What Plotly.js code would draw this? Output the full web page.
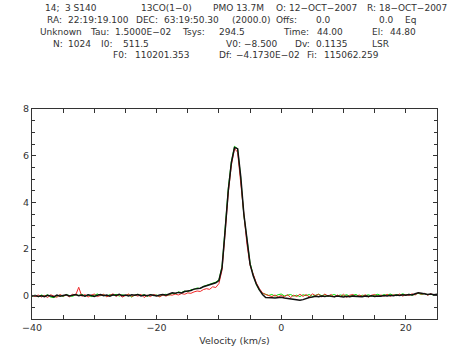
<!DOCTYPE html>
<html>
<head>
<meta charset="utf-8">
<script src="https://cdn.plot.ly/plotly-3.0.1.min.js"></script>
<style>html,body{margin:0;padding:0;background:#fff;}#plot{width:456px;height:355px;}</style>
</head>
<body>
<div id="plot"></div>
<script>
// Velocity channels (km/s)
const velocity = [
 -40,-39.5,-39,-38.5,-38,-37.5,-37,-36.5,-36,-35.5,
 -35,-34.5,-34,-33.5,-33,-32.5,-32,-31.5,-31,-30.5,
 -30,-29.5,-29,-28.5,-28,-27.5,-27,-26.5,-26,-25.5,
 -25,-24.5,-24,-23.5,-23,-22.5,-22,-21.5,-21,-20.5,
 -20,-19.5,-19,-18.5,-18,-17.5,-17,-16.5,-16,-15.5,
 -15,-14.5,-14,-13.5,-13,-12.5,-12,-11.5,-11,-10.5,
 -10,-9.5,-9,-8.5,-8,-7.5,-7,-6.5,-6,-5.5,
 -5,-4.5,-4,-3.5,-3,-2.5,-2,-1.5,-1,-0.5,
 0,0.5,1,1.5,2,2.5,3,3.5,4,4.5,
 5,5.5,6,6.5,7,7.5,8,8.5,9,9.5,
 10,10.5,11,11.5,12,12.5,13,13.5,14,14.5,
 15,15.5,16,16.5,17,17.5,18,18.5,19,19.5,
 20,20.5,21,21.5,22,22.5,23,23.5,24,24.5,
 25
];
const blackSpec = [
 -0.02,0.01,-0.03,0.0,-0.04,0.02,-0.01,-0.05,0.03,-0.02,
 0.01,0.04,-0.01,0.02,0.05,0.0,0.03,-0.02,0.04,0.01,
 -0.03,0.02,0.05,0.0,0.03,-0.02,0.04,0.01,0.06,0.0,
 0.03,-0.01,0.04,0.02,0.05,-0.01,0.03,0.0,0.04,0.02,
 -0.01,0.03,0.05,0.02,0.08,0.12,0.1,0.14,0.12,0.18,
 0.2,0.22,0.28,0.3,0.32,0.38,0.42,0.45,0.5,0.55,
 0.65,1.2,2.8,4.5,5.7,6.35,6.3,5.1,3.5,2.3,
 1.35,0.85,0.5,0.25,0.05,-0.08,-0.1,-0.09,-0.1,-0.08,
 -0.07,-0.1,-0.12,-0.15,-0.17,-0.18,-0.2,-0.17,-0.12,-0.08,
 -0.06,-0.03,-0.05,-0.02,-0.04,0.0,-0.03,-0.05,-0.02,-0.04,
 -0.06,-0.03,-0.05,-0.02,-0.04,-0.03,-0.05,-0.02,-0.03,0.0,
 -0.03,-0.01,-0.02,0.01,-0.01,0.02,0.0,0.03,0.01,0.04,
 0.02,0.05,0.03,0.08,0.12,0.1,0.08,0.05,0.07,0.04,
 0.06
];
const redSpec = [
 0.02,-0.04,0.03,-0.06,0.01,-0.08,0.04,-0.03,-0.07,0.05,
 -0.02,0.03,-0.05,0.06,0.02,0.36,-0.03,0.05,-0.06,0.02,
 0.07,-0.04,0.01,0.06,-0.05,0.03,0.08,-0.03,0.04,-0.06,
 0.02,0.07,-0.04,0.03,-0.02,0.06,-0.08,0.02,-0.04,0.05,
 0.01,-0.05,0.03,-0.02,0.04,0.02,0.07,0.03,0.09,0.06,
 0.12,0.1,0.16,0.2,0.18,0.26,0.3,0.27,0.38,0.35,
 0.52,1.1,2.7,4.4,5.6,6.3,6.15,4.9,3.4,2.2,
 1.3,0.9,0.55,0.3,0.12,0.05,0.02,-0.04,0.03,-0.06,
 0.01,-0.05,0.04,-0.08,0.02,-0.04,0.06,-0.03,0.05,-0.06,
 0.08,0.0,0.06,-0.05,0.07,-0.02,0.05,-0.06,0.03,-0.04,
 0.06,-0.07,0.02,0.05,-0.05,0.03,-0.03,0.04,-0.06,0.02,
 0.05,-0.04,0.03,-0.02,0.06,-0.03,0.04,0.0,0.07,-0.02,
 0.05,0.01,0.08,0.03,0.13,0.06,0.1,0.02,0.08,0.03,
 0.05
];
const greenSpec = [
 -0.03,0.02,-0.05,0.03,-0.02,0.04,-0.06,-0.08,-0.02,0.03,
 -0.04,0.05,0.0,-0.03,0.04,0.01,0.06,-0.02,0.03,-0.04,
 0.02,0.07,0.0,0.04,-0.03,0.05,0.01,0.06,-0.02,0.04,
 0.0,0.05,-0.06,0.03,0.06,0.01,0.04,-0.03,0.05,0.0,
 0.03,-0.04,0.04,0.06,0.02,0.1,0.08,0.16,0.13,0.2,
 0.17,0.25,0.27,0.33,0.3,0.4,0.44,0.48,0.52,0.58,
 0.68,1.25,2.9,4.6,5.75,6.4,6.3,5.05,3.45,2.3,
 1.4,0.9,0.48,0.22,0.1,0.06,0.01,0.05,-0.02,0.04,
 0.07,-0.01,0.03,0.05,-0.02,0.02,-0.04,0.04,0.0,0.05,
 -0.03,0.03,0.06,0.0,0.04,-0.03,0.02,0.05,-0.01,0.03,
 0.0,0.04,-0.02,0.02,0.05,-0.03,0.02,0.0,0.04,-0.02,
 0.03,0.06,0.0,0.04,0.02,0.07,0.01,0.05,0.02,0.08,
 0.03,0.06,0.02,0.07,0.1,0.05,0.09,0.04,0.06,0.02,
 0.05
];
// Header text tokens (one list per line)
const headerLine1 = ["14;", "3 S140", "13CO(1-0)", "PMO 13.7M", "O:", "12-OCT-2007", "R:", "18-OCT-2007"];
const headerLine2 = ["RA:", "22:19:19.100", "DEC:", "63:19:50.30", "(2000.0)", "Offs:", "0.0", "0.0", "Eq"];
const headerLine3 = ["Unknown", "Tau:", "1.5000E-02", "Tsys:", "294.5", "Time:", "44.00", "El:", "44.80"];
const headerLine4 = ["N:", "1024", "I0:", "511.5", "V0:", "-8.500", "Dv:", "0.1135", "LSR"];
const headerLine5 = ["F0:", "110201.353", "Df:", "-4.1730E-02", "Fi:", "115062.259"];
const xTitle = "Velocity (km/s)";

// ---- layout geometry ----
const W = 456, H = 355, L = 32, R = 437, T = 109, B = 319;
const pxX = p => (p - L) / (R - L);
const pxY = p => (B - p) / (B - T);
const lineTokens = [headerLine1, headerLine2, headerLine3, headerLine4, headerLine5];
const lineY = [8.5, 20.5, 32.5, 44, 55];
const lineX = [
  [43, 63, 139, 211, 274, 287, 365, 377],
  [45, 66, 134, 162, 230, 274, 314, 377, 403],
  [38, 88, 113, 180, 217, 281, 315, 370, 388],
  [51, 66, 99, 121, 224, 242, 293, 314, 370],
  [111, 133, 217, 234, 305, 322]
];
const hdrFont = {family: "DejaVu Sans, Liberation Sans, sans-serif", size: 9, color: "#333"};
const annotations = [];
lineTokens.forEach((toks, i) => {
  toks.forEach((t, j) => {
    annotations.push({
      text: t.replace(/-/g, "\u2212"), xref: "paper", yref: "paper",
      x: pxX(lineX[i][j]), y: pxY(lineY[i]), xanchor: "left", yanchor: "middle",
      showarrow: false, font: hdrFont
    });
  });
});

const tickFont = {family: "DejaVu Sans, Liberation Sans, sans-serif", size: 9.5, color: "#333"};
const traces = [
  {x: velocity, y: greenSpec, type: "scatter", mode: "lines", line: {color: "#00e600", width: 1}, hoverinfo: "skip"},
  {x: velocity, y: redSpec, type: "scatter", mode: "lines", line: {color: "#f02828", width: 1}, hoverinfo: "skip"},
  {x: velocity, y: blackSpec, type: "scatter", mode: "lines", line: {color: "#111", width: 1.5}, hoverinfo: "skip"}
];
const layout = {
  width: W, height: H,
  margin: {l: L, r: W - R, t: T, b: H - B, pad: 0},
  paper_bgcolor: "#fff", plot_bgcolor: "#fff",
  showlegend: false,
  font: tickFont,
  xaxis: {
    range: [-40, 25], tick0: 0, dtick: 20, ticks: "inside", ticklen: 4, tickcolor: "#333",
    showline: true, linecolor: "#333", linewidth: 1, mirror: "allticks", showgrid: false, zeroline: false,
    tickfont: tickFont,
    minor: {dtick: 5, tick0: 0, ticks: "inside", ticklen: 4, tickcolor: "#333", showgrid: false},
    title: {text: xTitle, font: tickFont, standoff: 4}
  },
  yaxis: {
    range: [-1, 8], tick0: 0, dtick: 2, ticks: "inside", ticklen: 4, tickcolor: "#333",
    showline: true, linecolor: "#333", linewidth: 1, mirror: "allticks", showgrid: false, zeroline: false,
    tickfont: tickFont,
    minor: {dtick: 0.5, tick0: 0, ticks: "inside", ticklen: 3, tickcolor: "#333", showgrid: false}
  },
  annotations: annotations
};
Plotly.newPlot("plot", traces, layout, {staticPlot: true, displayModeBar: false});
</script>
</body>
</html>
